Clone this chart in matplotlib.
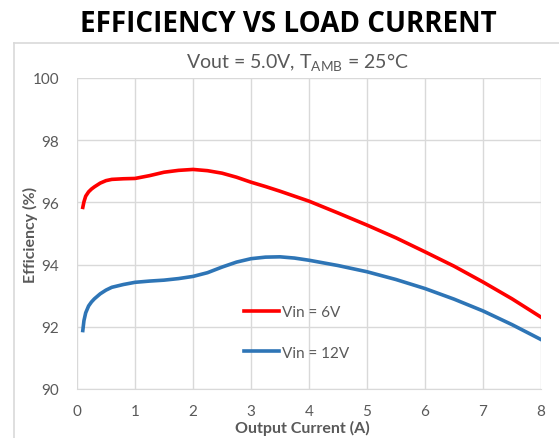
import matplotlib.pyplot as plt
from matplotlib.lines import Line2D

current = [0.1, 0.12, 0.15, 0.2, 0.25, 0.3, 0.4, 0.5, 0.6, 0.8, 1.0, 1.25, 1.5, 1.75, 2.0,
           2.25, 2.5, 2.75, 3.0, 3.25, 3.5, 3.75, 4.0, 4.5, 5.0, 5.5, 6.0, 6.5, 7.0, 7.5, 8.0]
eff_6v = [95.84, 96.02, 96.2, 96.34, 96.43, 96.5, 96.62, 96.7, 96.74, 96.76, 96.77, 96.86,
          96.97, 97.03, 97.06, 97.02, 96.94, 96.81, 96.65, 96.51, 96.36, 96.2, 96.04, 95.66,
          95.27, 94.86, 94.41, 93.95, 93.44, 92.9, 92.31]
eff_12v = [91.88, 92.2, 92.45, 92.67, 92.8, 92.9, 93.06, 93.18, 93.27, 93.36, 93.43, 93.47,
           93.5, 93.55, 93.62, 93.74, 93.92, 94.08, 94.19, 94.24, 94.25, 94.21, 94.14, 93.97,
           93.77, 93.52, 93.23, 92.89, 92.51, 92.07, 91.59]

plt.rcParams['font.family'] = ['Lato', 'DejaVu Sans']

gray = '#595959'
grid_c = '#d9d9d9'

fig = plt.figure(figsize=(5.59, 4.39), dpi=100)
ax = fig.add_axes([77/559, 1 - 390/439, 464/559, 311/439])

ax.plot(current, eff_6v, color='#ff0000', lw=2.6, label='Vin = 6V', solid_joinstyle='round')
ax.plot(current, eff_12v, color='#2e75b6', lw=2.6, label='Vin = 12V', solid_joinstyle='round')

ax.set_xlim(0, 8)
ax.set_ylim(90, 100)
ax.set_xticks(range(0, 9))
ax.set_yticks(range(90, 101, 2))
ax.grid(True, color=grid_c, lw=1)
ax.set_axisbelow(True)
for s in ['top', 'right', 'left']:
    ax.spines[s].set_visible(False)
ax.spines['bottom'].set_color(grid_c)
ax.tick_params(length=0, colors=gray, labelsize=11)
ax.tick_params(axis='x', pad=11)
ax.tick_params(axis='y', pad=13)

ax.set_xlabel('Output Current (A)', fontsize=11.5, fontweight='bold', color=gray)
ax.set_ylabel('Efficiency (%)', fontsize=11.5, fontweight='bold', color=gray)
ax.xaxis.set_label_coords(0.485, -0.1)
ax.yaxis.set_label_coords(-0.084, 0.5)

leg = ax.legend(loc='upper left', bbox_to_anchor=(0.36, 0.27), frameon=False,
                borderpad=0, borderaxespad=0, handlelength=2.3, handletextpad=0.2,
                labelspacing=1.75, fontsize=11)
for t in leg.get_texts():
    t.set_color(gray)

fig.text(0.515, 1 - 24/439, 'EFFICIENCY VS LOAD CURRENT', ha='center', va='center',
         fontsize=20, fontweight='bold', color='black', family='Open Sans')
fig.text(0.532, 1 - 63/439, 'Vout = 5.0V, T$_{\\mathregular{AMB}}$ = 25°C', ha='center',
         va='center', fontsize=14, color=gray)

# chart area border
fig.add_artist(Line2D([14/559, 14/559], [0, 1 - 44/439], color=grid_c, lw=1.2))
fig.add_artist(Line2D([14/559, 1], [1 - 44/439, 1 - 44/439], color=grid_c, lw=1.2))

fig.savefig('out.png', dpi=100)
